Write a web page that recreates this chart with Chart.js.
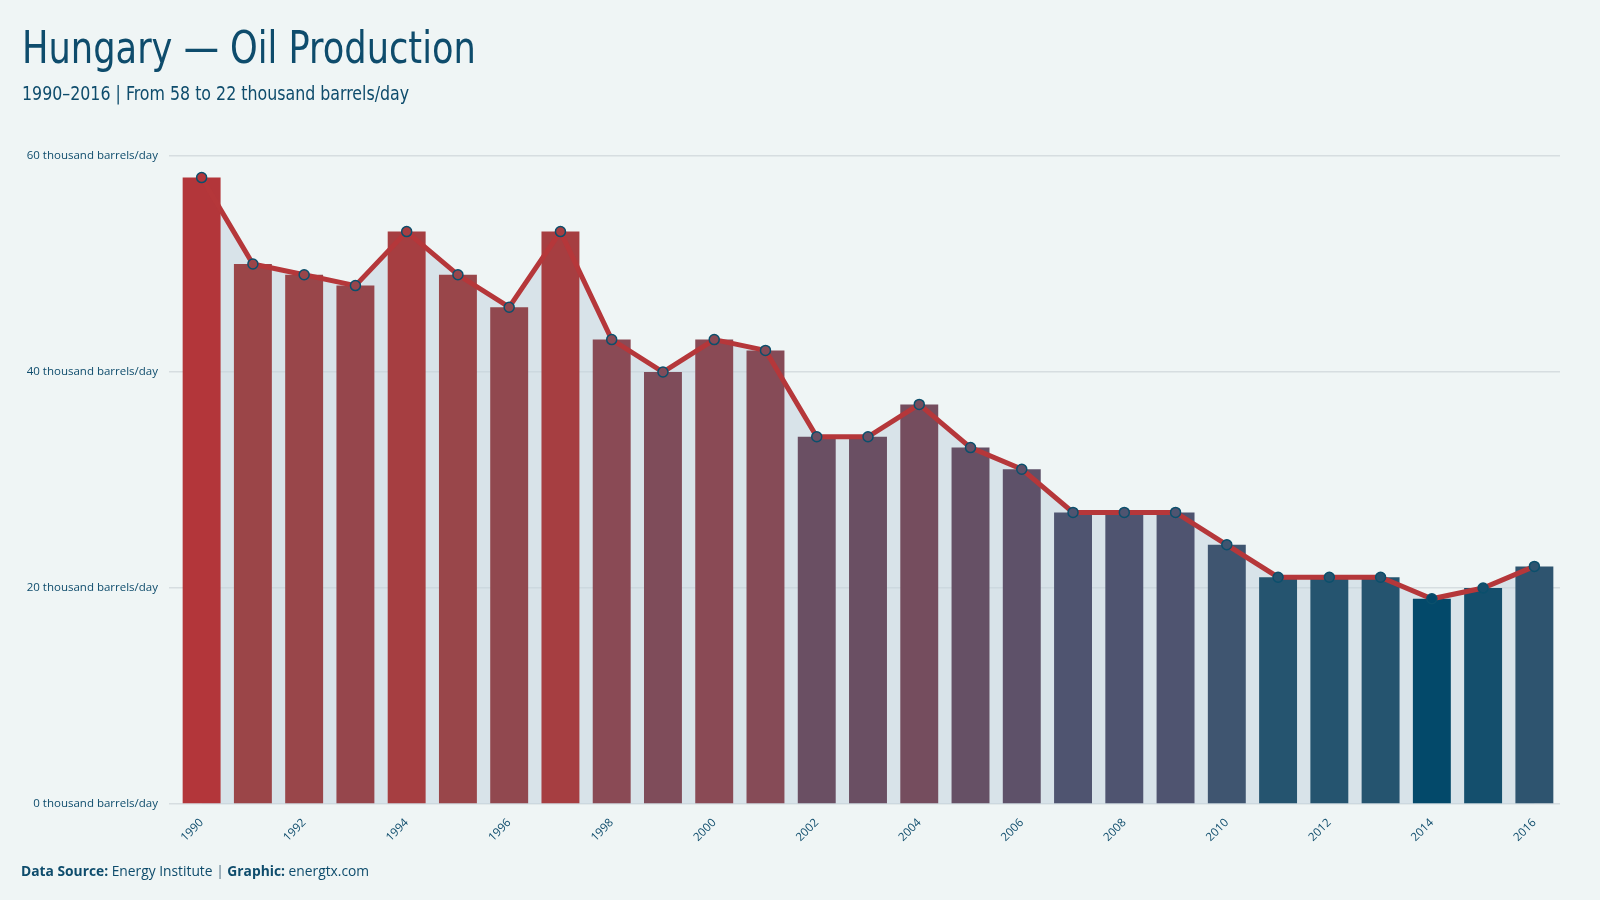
<!DOCTYPE html>
<html>
<head>
<meta charset="utf-8">
<script src="https://cdn.jsdelivr.net/npm/chart.js@4.4.1/dist/chart.umd.min.js"></script>
<style>
  html, body { margin:0; padding:0; background:#eff5f5; }
  body { width:1600px; height:900px; position:relative; overflow:hidden; color:#0e4c6c; }
  #title { position:absolute; left:22px; top:22px; font-family:"Ubuntu Condensed","DejaVu Sans Condensed","Liberation Sans Narrow","Roboto Condensed",Roboto,sans-serif; font-size:44px; line-height:52px; white-space:nowrap; transform:scaleX(0.89); transform-origin:left top; }
  #subtitle { position:absolute; left:22px; top:80px; font-family:"Ubuntu Condensed","DejaVu Sans Condensed","Liberation Sans Narrow","Roboto Condensed",Roboto,sans-serif; font-size:20px; line-height:26px; white-space:nowrap; transform:scaleX(0.88); transform-origin:left top; }
  #footer { position:absolute; left:21px; top:861px; font-family:"Open Sans",sans-serif; font-size:13.8px; line-height:20px; white-space:nowrap; }
  #footer b { font-weight:700; }
  #footer .sep { color:#8aa0ad; font-weight:700; }
  #wrap { position:absolute; left:0; top:0; width:1600px; height:900px; }
</style>
</head>
<body>
<div id="wrap"><canvas id="chart"></canvas></div>
<div id="title">Hungary — Oil Production</div>
<div id="subtitle">1990–2016 | From 58 to 22 thousand barrels/day</div>
<div id="footer"><b>Data Source:</b> Energy Institute <span class="sep">|</span> <b>Graphic:</b> energtx.com</div>
<script>
/* ════════════════════════════
   DATA
════════════════════════════ */
const YEARS = ['1990','1991','1992','1993','1994','1995','1996','1997','1998','1999',
               '2000','2001','2002','2003','2004','2005','2006','2007','2008','2009',
               '2010','2011','2012','2013','2014','2015','2016'];
const PRODUCTION = [58, 50, 49, 48, 53, 49, 46, 53, 43, 40,
                    43, 42, 34, 34, 37, 33, 31, 27, 27, 27,
                    24, 21, 21, 21, 19, 20, 22];
const Y_TICKS = [0, 20, 40, 60];
const UNIT = 'thousand barrels/day';

/* colour ramp: value -> rgb (low = blue, high = red) */
const COLOR_STOPS = [
  [19, [3, 73, 106]],
  [21, [37, 84, 111]],
  [24, [63, 85, 112]],
  [27, [79, 84, 112]],
  [34, [106, 79, 99]],
  [43, [138, 74, 85]],
  [50, [155, 69, 72]],
  [53, [166, 62, 65]],
  [58, [179, 54, 58]],
];

function rampColor(v) {
  for (let i = 1; i < COLOR_STOPS.length; i++) {
    const [v0, c0] = COLOR_STOPS[i - 1], [v1, c1] = COLOR_STOPS[i];
    if (v <= v1) {
      const t = Math.max(0, (v - v0) / (v1 - v0));
      const c = c0.map((x, k) => Math.round(x + (c1[k] - x) * t));
      return `rgb(${c[0]},${c[1]},${c[2]})`;
    }
  }
  const c = COLOR_STOPS[COLOR_STOPS.length - 1][1];
  return `rgb(${c[0]},${c[1]},${c[2]})`;
}

const BAR_COLORS = PRODUCTION.map(rampColor);
const TEXT = '#0e4c6c';

/* ════════════════════════════
   CHART
════════════════════════════ */
new Chart(document.getElementById('chart').getContext('2d'), {
  data: {
    labels: YEARS,
    datasets: [
      { // area under the line
        type: 'line',
        data: PRODUCTION,
        order: 3,
        fill: 'origin',
        backgroundColor: 'rgba(197,211,223,0.55)',
        borderWidth: 0,
        pointRadius: 0,
        tension: 0,
      },
      {
        type: 'bar',
        data: PRODUCTION,
        order: 2,
        backgroundColor: BAR_COLORS,
        barPercentage: 0.74,
        categoryPercentage: 1,
      },
      {
        type: 'line',
        data: PRODUCTION,
        order: 1,
        fill: false,
        borderColor: '#b5373a',
        borderWidth: 5,
        tension: 0,
        pointRadius: 5,
        pointBorderWidth: 1.5,
        pointBorderColor: '#0b4f6c',
        pointBackgroundColor: BAR_COLORS,
      },
    ]
  },
  options: {
    responsive: true, maintainAspectRatio: false, animation: false,
    events: [],
    layout: { padding: { left: 0, right: 40, top: 156, bottom: 36 } },
    plugins: { legend: { display: false }, tooltip: { enabled: false } },
    scales: {
      x: {
        offset: true,
        grid: { display: false },
        border: { display: false },
        afterFit: s => { s.height = 60; },
        ticks: {
          autoSkip: false, minRotation: 45, maxRotation: 45, padding: 4,
          font: { family: 'Open Sans', size: 11.5 }, color: TEXT,
          callback: (v, i) => (i % 2 === 0 ? YEARS[i] : ''),
        },
      },
      y: {
        min: 0, max: 60,
        afterFit: s => { s.width = 176; },
        afterBuildTicks: s => { s.ticks = Y_TICKS.map(v => ({ value: v })); },
        border: { display: false },
        grid: { color: '#d6dde0', lineWidth: 1.5, drawTicks: true, tickLength: 7 },
        ticks: {
          padding: 11,
          font: { family: 'Open Sans', size: 11.5 }, color: TEXT,
          callback: v => v + ' ' + UNIT,
        },
      },
    },
  },
});
</script>
</body>
</html>
